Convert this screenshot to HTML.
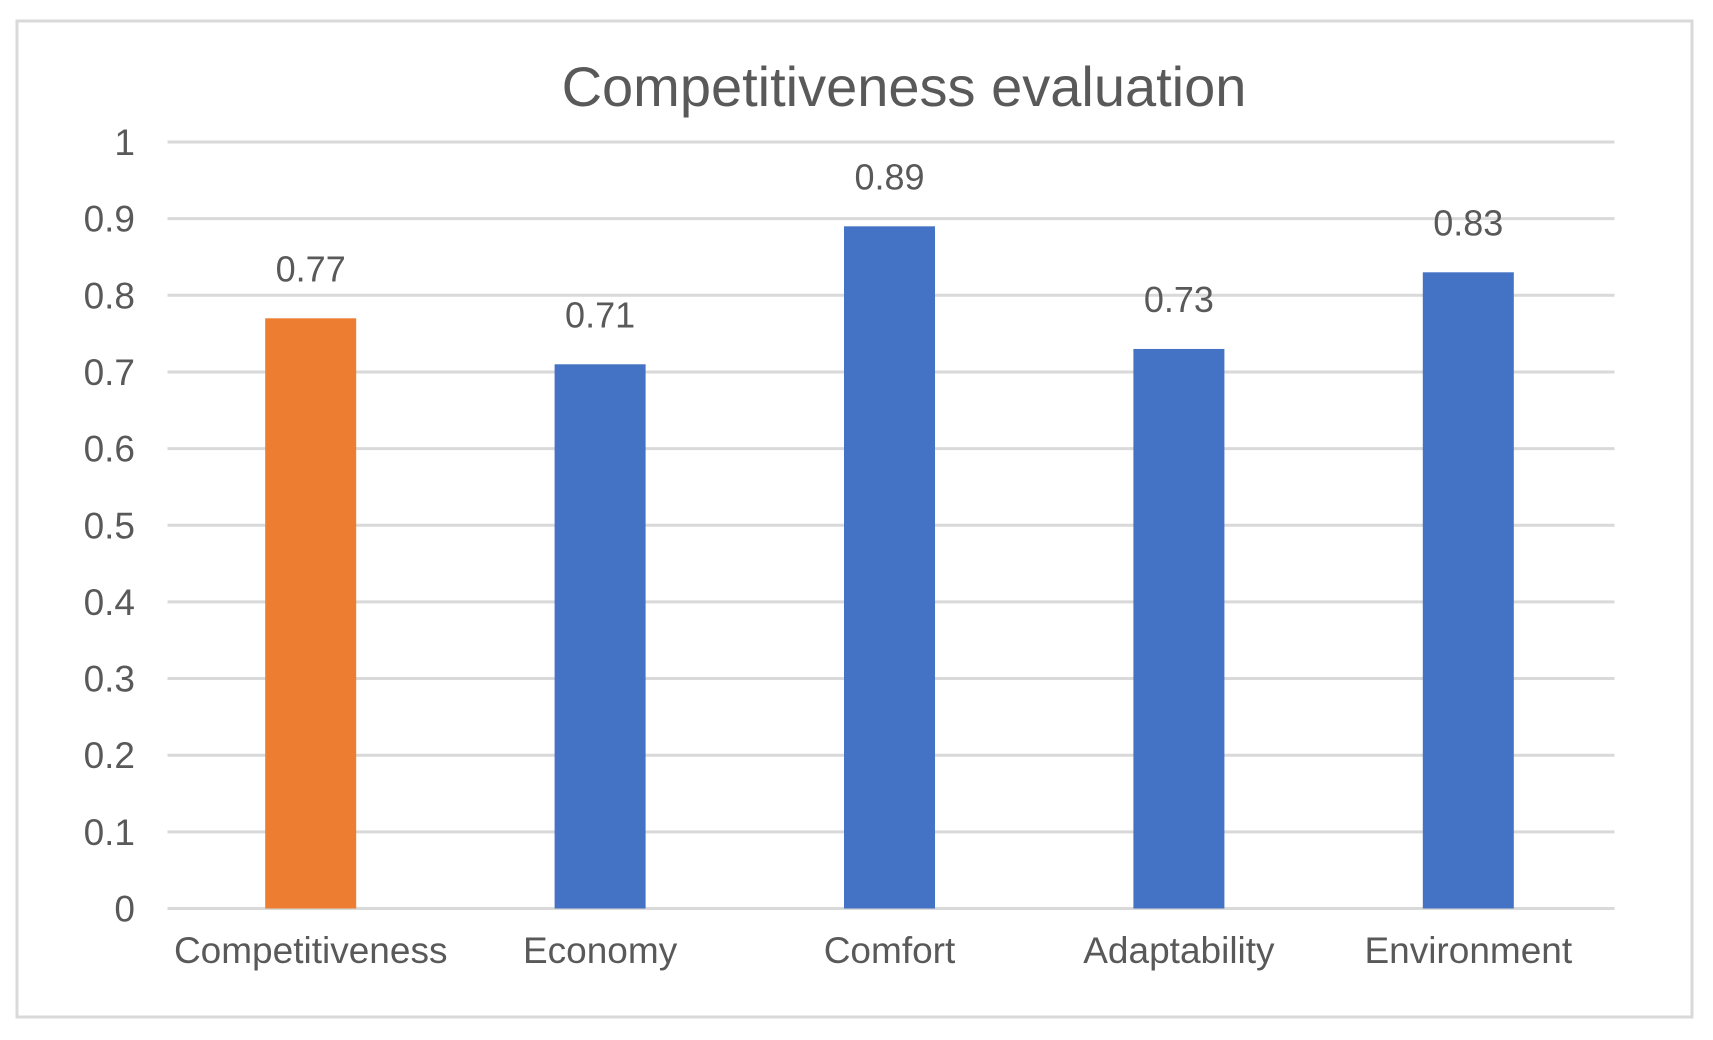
<!DOCTYPE html>
<html><head><meta charset="utf-8"><style>
html,body{margin:0;padding:0;background:#fff;}
svg{display:block;}
text{font-family:"Liberation Sans",sans-serif;fill:#595959;}
</style></head><body>
<svg id="chart" width="1713" height="1040">
<rect x="17" y="21" width="1675" height="996" fill="#fff" stroke="#d9d9d9" stroke-width="3"/>
<text x="904" y="106" font-size="56" text-anchor="middle">Competitiveness evaluation</text>
<g id="grid"></g><g id="bars"></g><g id="labels"></g>
</svg>
<script>
const categories = ["Competitiveness","Economy","Comfort","Adaptability","Environment"];
const values = [0.77,0.71,0.89,0.73,0.83];
const barColors = ["#ed7d31","#4472c4","#4472c4","#4472c4","#4472c4"];
const ticks = [0,0.1,0.2,0.3,0.4,0.5,0.6,0.7,0.8,0.9,1];
const tickLabels = ["0","0.1","0.2","0.3","0.4","0.5","0.6","0.7","0.8","0.9","1"];
const NS="http://www.w3.org/2000/svg";
const L=167.5,R=1614.5,T=142,B=908.5;
const y=v=>B-(v-0)/(1-0)*(B-T);
const bw=(R-L)/categories.length;
const x=i=>L+bw*(i+0.5)-1.5;
const grid=document.getElementById('grid'),bars=document.getElementById('bars'),labels=document.getElementById('labels');
function mk(tag,attrs,parent,txt){const e=document.createElementNS(NS,tag);for(const k in attrs)e.setAttribute(k,attrs[k]);if(txt!==undefined)e.textContent=txt;parent.appendChild(e);return e;}
ticks.forEach((t,i)=>{
  const l=mk('line',{x1:L,x2:R,y1:y(t),y2:y(t),stroke:'#d9d9d9','stroke-width':3},grid);
  
  
  const tx=mk('text',{x:135,y:y(t)+13,'font-size':37,'text-anchor':'end'},labels,tickLabels[i]);
  
  
});
categories.forEach((c,i)=>{
  const r=mk('rect',{x:x(i)-45.5,y:y(values[i]),width:91,height:B-y(values[i]),fill:barColors[i]},bars);
  
  
  const v=mk('text',{x:x(i),y:y(values[i])-37,'font-size':36,'text-anchor':'middle'},labels,values[i].toFixed(2));
  
  
  const cl=mk('text',{x:x(i),y:963,'font-size':37,'text-anchor':'middle'},labels,c);
  
  
});
</script>
</body></html>
